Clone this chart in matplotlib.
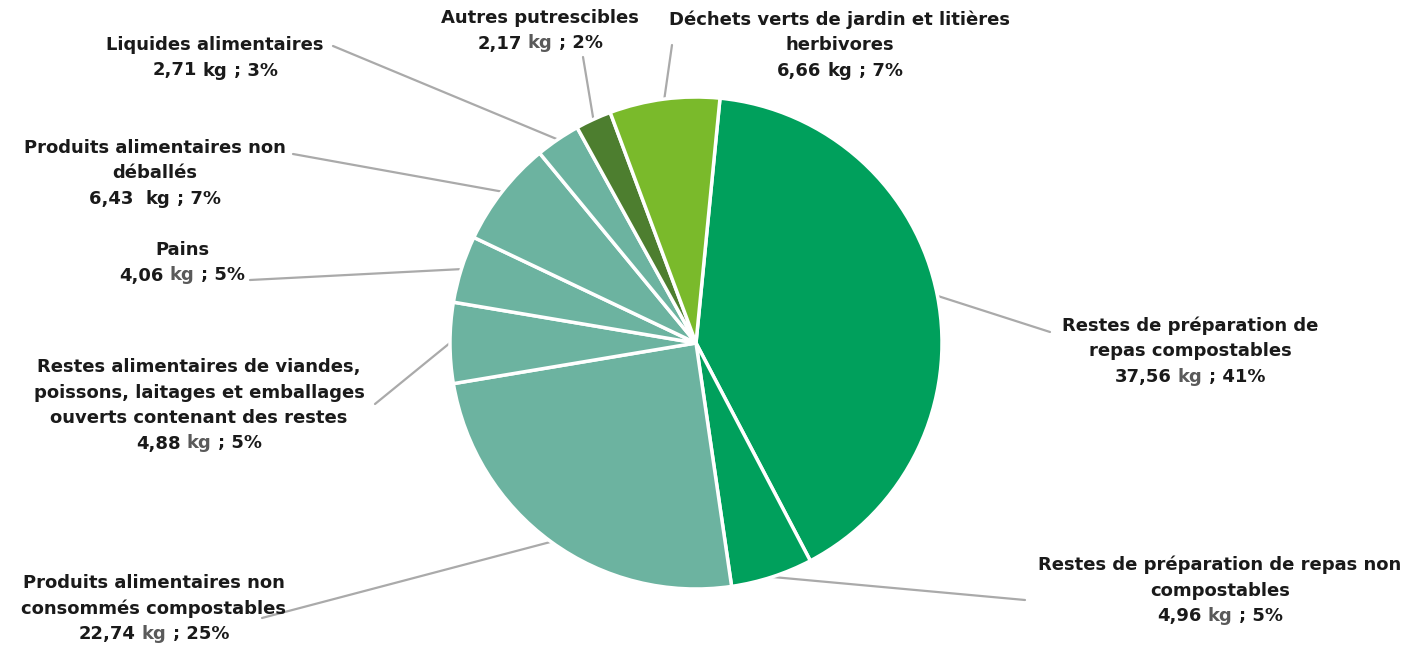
import numpy as np
import matplotlib
matplotlib.use("Agg")
import matplotlib.pyplot as plt

# ---- data ----
categories = [
    "Restes de préparation de\nrepas compostables",
    "Restes de préparation de repas non\ncompostables",
    "Produits alimentaires non\nconsommés compostables",
    "Restes alimentaires de viandes,\npoissons, laitages et emballages\nouverts contenant des restes",
    "Pains",
    "Produits alimentaires non\ndéballés",
    "Liquides alimentaires",
    "Autres putrescibles",
    "Déchets verts de jardin et litières\nherbivores",
]
values_kg = [37.56, 4.96, 22.74, 4.88, 4.06, 6.43, 2.71, 2.17, 6.66]
value_labels = ["37,56", "4,96", "22,74", "4,88", "4,06", "6,43 ", "2,71", "2,17", "6,66"]
pct_labels = ["41%", "5%", "25%", "5%", "5%", "7%", "3%", "2%", "7%"]
kg_gray = [True, True, True, True, True, False, False, True, False]

colors = ["#00a05c", "#00a05c", "#6cb3a0", "#6cb3a0", "#6cb3a0", "#6cb3a0",
          "#6cb3a0", "#4d7e2f", "#7aba2b"]

# label layout (pixel coords from top-left): centre x, first-line centre y
label_x = [1190, 1220, 154, 199, 182, 155, 215, 540, 840]
label_y = [326, 565, 583, 367, 250, 148, 45, 18, 20]
# leader line end points (pixel coords from top-left)
leader_end = [(1050, 332), (1025, 600), (262, 618), (375, 404), (250, 280),
              (293, 154), (333, 46), (583, 57), (672, 45)]

W, H = 1425, 645
plt.rcParams['font.family'] = ['DejaVu Sans']

fig = plt.figure(figsize=(W / 100, H / 100), dpi=100)
ax = fig.add_axes([0, 0, 1, 1])

cx, cy, R = 696, H - 343, 246
start = 84.4
wedges, _ = ax.pie(values_kg, colors=colors, startangle=start, counterclock=False,
                   center=(cx, cy), radius=R,
                   wedgeprops=dict(edgecolor="white", linewidth=2.5))
ax.set_xlim(0, W)
ax.set_ylim(0, H)
ax.set_aspect('equal')
ax.axis('off')

# leader lines from wedge mid-angle to label
for w, (ex, ey) in zip(wedges, leader_end):
    mid = np.deg2rad((w.theta1 + w.theta2) / 2)
    sx, sy = cx + R * np.cos(mid), cy + R * np.sin(mid)
    ax.plot([sx, ex], [sy, H - ey], color="#aaaaaa", lw=1.6, zorder=0,
            solid_capstyle='round')

fs = 13
dark = "#1a1a1a"
gray = "#5a5a5a"
spacing = 25.5
fig.canvas.draw()
renderer = fig.canvas.get_renderer()


def text_width(s):
    t = ax.text(0, 0, s, fontsize=fs, fontweight='bold')
    bb = t.get_window_extent(renderer=renderer)
    t.remove()
    return bb.width


for name, num, pct, g, lx, ly in zip(categories, value_labels, pct_labels, kg_gray,
                                       label_x, label_y):
    lines = name.split("\n")
    for i, ln in enumerate(lines):
        ax.text(lx, H - (ly + i * spacing), ln, fontsize=fs, fontweight='bold',
                color=dark, ha='center', va='center')
    yv = H - (ly + len(lines) * spacing)
    full = f"{num} kg ; {pct}"
    wf = text_width(full)
    left = lx - wf / 2
    ax.text(left, yv, num, fontsize=fs, fontweight='bold', color=dark,
            ha='left', va='center')
    xkg = left + text_width(f"{num} kg") - text_width("kg")
    ax.text(xkg, yv, "kg", fontsize=fs, fontweight='bold',
            color=gray if g else dark, ha='left', va='center')
    tail = f"; {pct}"
    xt = left + wf - text_width(tail)
    ax.text(xt, yv, tail, fontsize=fs, fontweight='bold', color=dark,
            ha='left', va='center')

fig.savefig("out.png", dpi=100)
